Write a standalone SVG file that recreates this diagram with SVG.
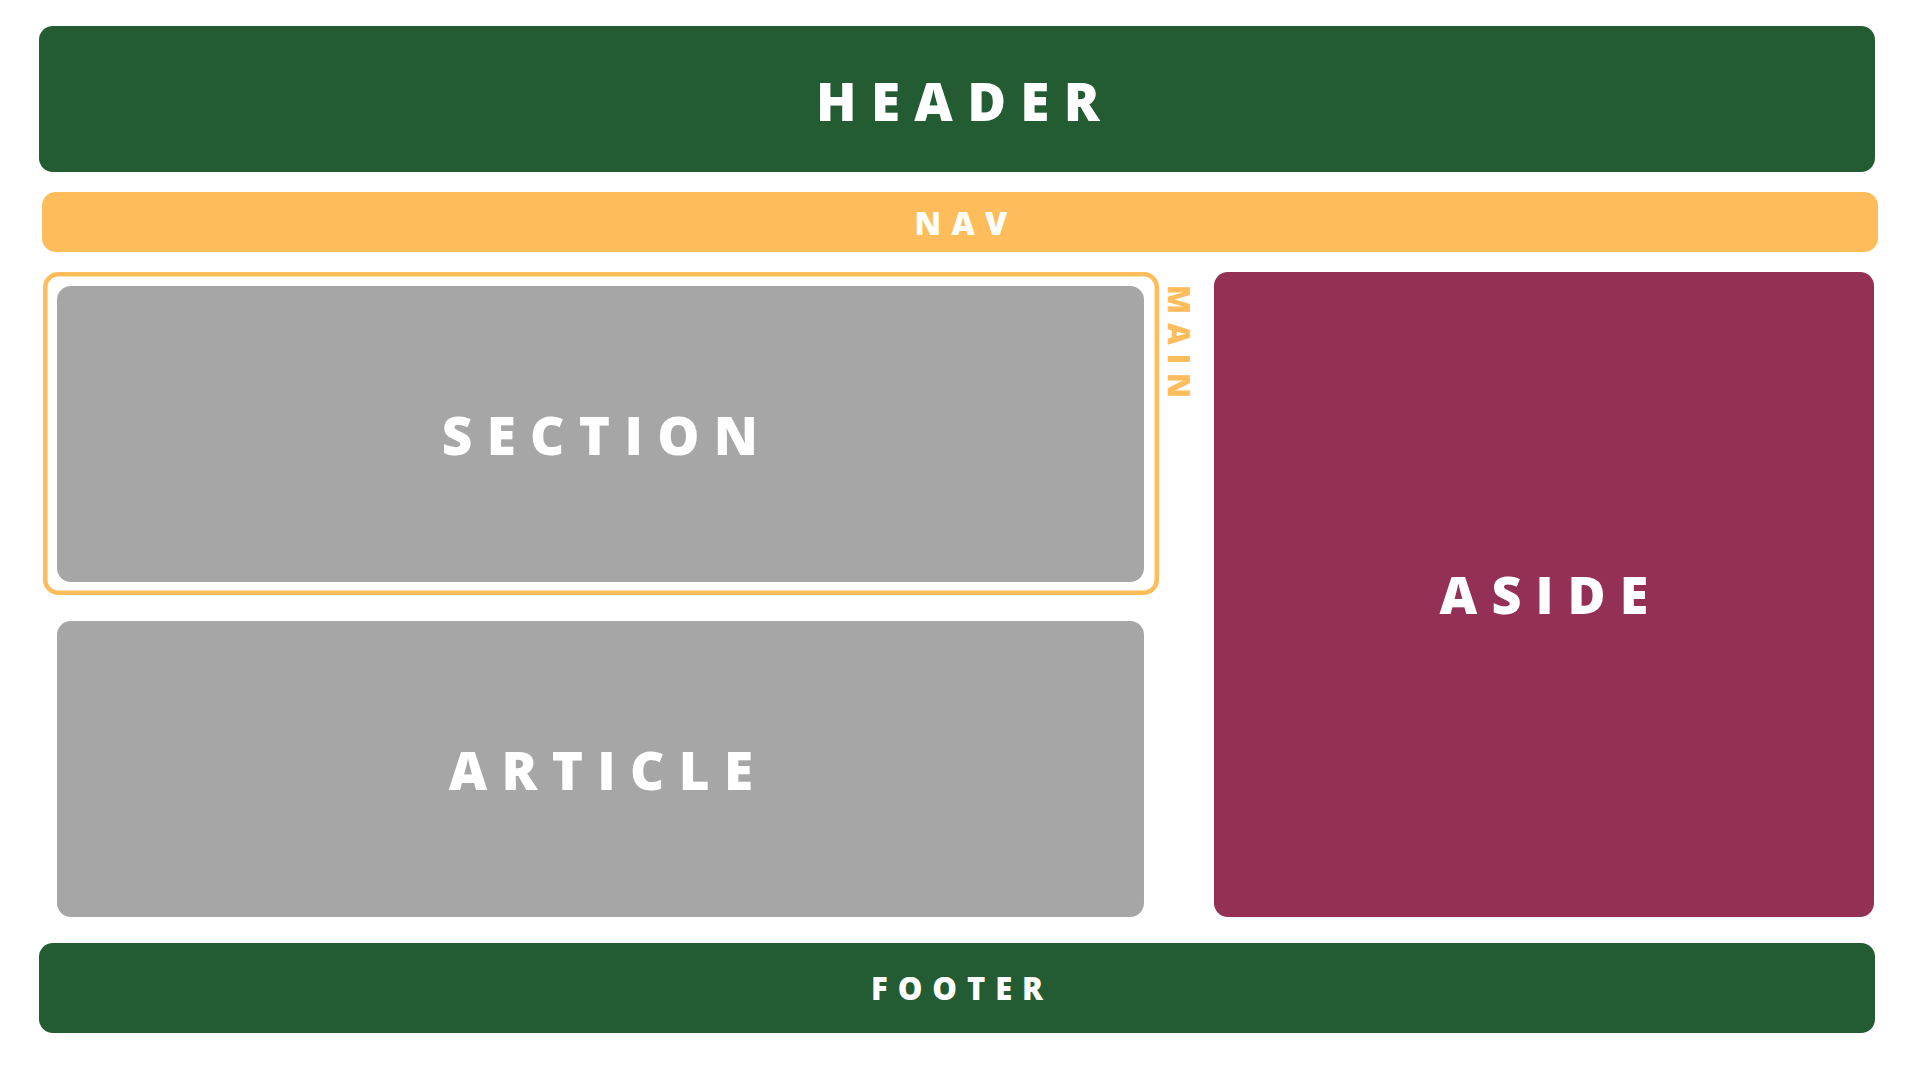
<svg xmlns="http://www.w3.org/2000/svg" width="1920" height="1080" viewBox="0 0 1920 1080">
  <style>
    .lbl { font-family: "Open Sans", "Liberation Sans", sans-serif; font-weight: 800; fill: #ffffff; text-anchor: middle; letter-spacing: 0.27em; }
    .big { font-size: 53px; }
    .small { font-size: 31px; }
    .green { fill: #235B32; }
    .orange { fill: #FEBC5A; }
    .gray { fill: #A6A6A6; }
    .plum { fill: #942F56; }
  </style>
  <rect width="1920" height="1080" fill="#ffffff"/>
  <g id="header">
    <rect class="green" x="39" y="26" width="1836" height="146" rx="14"/>
    <text class="lbl big" x="965" y="121">HEADER</text>
  </g>
  <g id="nav">
    <rect class="orange" x="42" y="192" width="1836" height="60" rx="14"/>
    <text class="lbl small" x="966" y="235" style="letter-spacing:0.32em;font-size:32px">NAV</text>
  </g>
  <g id="main">
    <rect x="45.25" y="274.25" width="1111.5" height="318.5" rx="13" fill="none" stroke="#FEBC5A" stroke-width="4.5"/>
    <text class="lbl" transform="translate(1168 341) rotate(90)" x="5" y="0" style="fill:#FEBC5A;font-size:30px;letter-spacing:0.3em">MAIN</text>
  </g>
  <g id="section">
    <rect class="gray" x="57" y="286" width="1087" height="296" rx="14"/>
    <text class="lbl big" x="607" y="455">SECTION</text>
  </g>
  <g id="article">
    <rect class="gray" x="57" y="621" width="1087" height="296" rx="14"/>
    <text class="lbl big" x="608" y="790">ARTICLE</text>
  </g>
  <g id="aside">
    <rect class="plum" x="1214" y="272" width="660" height="645" rx="14"/>
    <text class="lbl big" x="1551" y="614" style="font-size:52px">ASIDE</text>
  </g>
  <g id="footer">
    <rect class="green" x="39" y="943" width="1836" height="90" rx="14"/>
    <text class="lbl small" x="962" y="1000" style="letter-spacing:0.32em">FOOTER</text>
  </g>
  <g id="connectors"/>
</svg>
